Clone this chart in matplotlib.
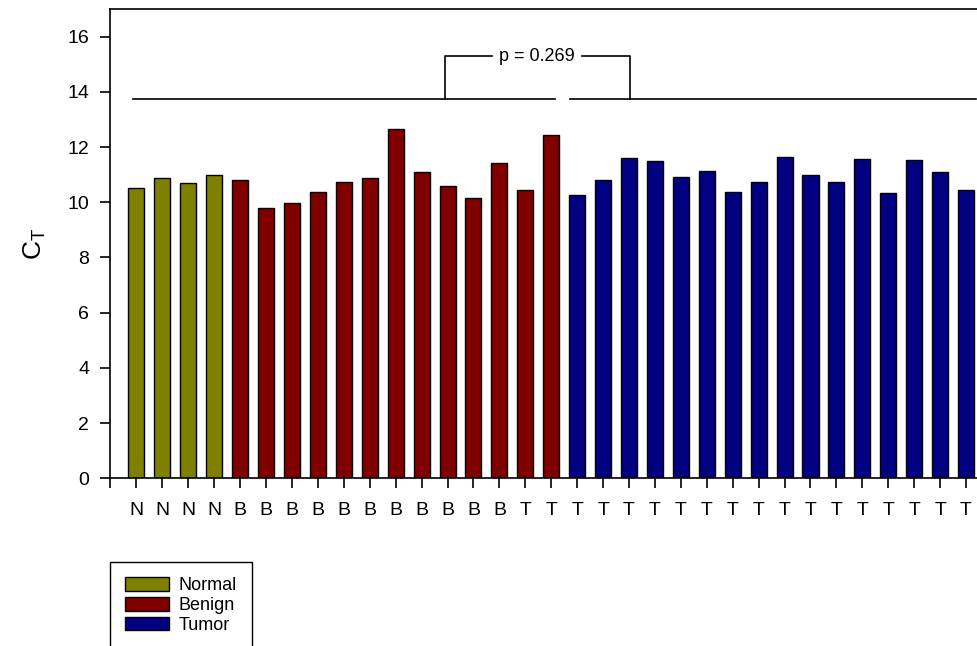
import matplotlib
matplotlib.use("Agg")
import matplotlib.pyplot as plt
from matplotlib.patches import Patch

plt.rcParams['font.family'] = ['Liberation Sans', 'DejaVu Sans']
plt.rcParams['mathtext.fontset'] = 'custom'
plt.rcParams['mathtext.rm'] = 'Liberation Sans'

# sample labels and CT values
labels = ['N'] * 4 + ['B'] * 11 + ['T'] * 18
groups = ['Normal'] * 4 + ['Benign'] * 13 + ['Tumor'] * 16
ct = [10.51, 10.89, 10.69, 10.97,
      10.81, 9.80, 9.99, 10.37, 10.73, 10.89, 12.65, 11.08, 10.58, 10.16, 11.43,
      10.44, 12.42,
      10.25, 10.80, 11.61, 11.48, 10.91, 11.14, 10.37, 10.74, 11.63, 10.99,
      10.74, 11.57, 10.32, 11.53, 11.11, 10.45]
colors = {'Normal': '#808000', 'Benign': '#800000', 'Tumor': '#000080'}
p_text = 'p = 0.269'

fig = plt.figure(figsize=(9.77, 6.46), dpi=100)
ax = fig.add_axes([110 / 977, 1 - 478.3 / 646, 1 - 110 / 977 + 0.01, (478.3 - 9) / 646])

x = list(range(len(ct)))
ax.bar(x, ct, width=0.62, color=[colors[g] for g in groups],
       edgecolor='black', linewidth=1.0, zorder=2)

ax.set_xlim(-1.02, 32.8)
ax.set_ylim(0, 17)
ax.set_yticks(range(0, 17, 2))
ax.set_xticks(x)
ax.set_xticklabels(labels)
ax.set_xticks([-1.02], minor=True)
ax.tick_params(axis='x', which='minor', length=7, width=1.2, direction='out')
ax.tick_params(axis='both', which='major', length=7, width=1.2, direction='out', labelsize=14)
ax.tick_params(axis='x', pad=10)
ax.tick_params(axis='y', pad=8)
ax.spines['right'].set_visible(False)
for s in ['left', 'top', 'bottom']:
    ax.spines[s].set_linewidth(1.2)
ax.set_ylabel(r'$\mathregular{C_T}$', fontsize=19, labelpad=14)

# comparison bracket
yb, yt = 13.74, 15.28
ax.plot([-0.13, 16.15], [yb, yb], color='black', lw=1.2, clip_on=False)
ax.plot([16.73, 32.4], [yb, yb], color='black', lw=1.2, clip_on=False)
ax.plot([11.9, 11.9, 13.7], [yb, yt, yt], color='black', lw=1.2)
ax.plot([17.2, 19.05, 19.05], [yt, yt, yb], color='black', lw=1.2)
ax.text(15.45, yt, p_text, ha='center', va='center', fontsize=13)

handles = [Patch(facecolor=colors[g], edgecolor='black', linewidth=1.0, label=g)
           for g in ['Normal', 'Benign', 'Tumor']]
leg = fig.legend(handles=handles, loc='upper left',
                 bbox_to_anchor=(110 / 977, 1 - 562 / 646),
                 fontsize=13, frameon=True, fancybox=False, framealpha=1,
                 edgecolor='black', borderpad=0.85, borderaxespad=0,
                 labelspacing=0.15, handlelength=2.4, handleheight=0.78,
                 handletextpad=0.55)
leg.get_frame().set_linewidth(1.0)

fig.savefig('out.png', dpi=100)
